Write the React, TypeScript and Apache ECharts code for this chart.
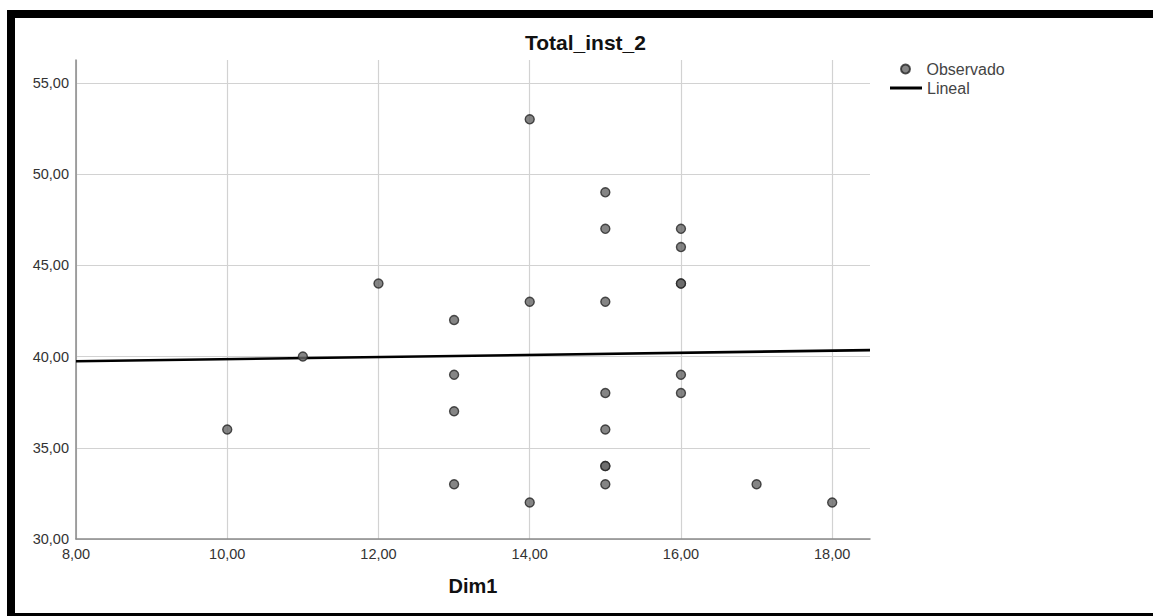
import React, { useEffect, useRef } from "react";
import * as echarts from "echarts";

const obsX = [10, 11, 12, 13, 13, 13, 13, 14, 14, 14, 15, 15, 15, 15, 15, 15, 15, 15, 16, 16, 16, 16, 16, 16, 17, 18];
const obsY = [36, 40, 44, 42, 39, 37, 33, 53, 43, 32, 49, 47, 43, 38, 36, 34, 34, 33, 47, 46, 44, 44, 39, 38, 33, 32];
const fitX = [8, 18.5];
const fitY = [39.74, 40.35];
const xRange = [8, 18.5];
const yRange = [30, 56.25];
const chartTitle = "Total_inst_2";
const xName = "Dim1";
const legendNames = ["Observado", "Lineal"];

const FONT = "'Liberation Sans', Arial, sans-serif";
const fmt = (v: number) => v.toFixed(2).replace(".", ",");

export default function App() {
  const ref = useRef<HTMLDivElement>(null);
  useEffect(() => {
    if (!ref.current) return;
    const chart = echarts.init(ref.current, undefined, { renderer: "svg" });
    chart.setOption({
      animation: false,
      backgroundColor: "#ffffff",
      title: {
        text: chartTitle,
        left: 525,
        top: 32,
        padding: 0,
        textStyle: { fontFamily: FONT, fontSize: 21, fontWeight: "bold", color: "#111" },
      },
      legend: [
        {
          data: [{ name: legendNames[0], icon: "circle" }],
          left: 900,
          top: 61,
          padding: 0,
          itemWidth: 32,
          itemHeight: 9,
          itemGap: 0,
          textStyle: { fontFamily: FONT, fontSize: 16, color: "#444" },
        },
        {
          data: [{ name: legendNames[1], icon: "rect" }],
          left: 890,
          top: 80,
          padding: 0,
          itemWidth: 32,
          itemHeight: 3,
          itemGap: 0,
          textStyle: { fontFamily: FONT, fontSize: 16, color: "#444" },
        },
      ],
      grid: { left: 76, top: 60, right: 283, bottom: 77, containLabel: false },
      xAxis: {
        type: "value",
        min: xRange[0],
        max: xRange[1],
        interval: 2,
        name: xName,
        nameLocation: "middle",
        nameGap: 37,
        nameTextStyle: { fontFamily: FONT, fontSize: 20, fontWeight: "bold", color: "#111" },
        axisLine: { show: true, lineStyle: { color: "#8a8a8a", width: 1.5 } },
        axisTick: { show: false },
        axisLabel: { margin: 7, showMaxLabel: false, formatter: fmt, fontFamily: FONT, fontSize: 14.5, color: "#333" },
        splitLine: { show: true, showMaxLine: false, lineStyle: { color: "#d2d2d2", width: 1.2 } },
      },
      yAxis: {
        type: "value",
        min: yRange[0],
        max: yRange[1],
        interval: 5,
        axisLine: { show: true, onZero: false, lineStyle: { color: "#8a8a8a", width: 1.5 } },
        axisTick: { show: false },
        axisLabel: { margin: 7, showMaxLabel: false, formatter: fmt, fontFamily: FONT, fontSize: 14.5, color: "#333", padding: [4, 0, 0, 0] },
        splitLine: { show: true, showMaxLine: false, lineStyle: { color: "#d2d2d2", width: 1.2 } },
      },
      series: [
        {
          name: legendNames[0],
          type: "scatter",
          data: obsX.map((x, i) => [x, obsY[i]]),
          symbol: "circle",
          symbolSize: 9,
          itemStyle: { color: "#666666", borderColor: "#262626", borderWidth: 1.4 },
          z: 3,
        },
        {
          name: legendNames[1],
          type: "line",
          data: fitX.map((x, i) => [x, fitY[i]]),
          showSymbol: false,
          symbol: "none",
          color: "#000",
          lineStyle: { color: "#000", width: 2.6 },
          itemStyle: { color: "#000" },
          z: 2,
        },
      ],
      graphic: [
        {
          type: "rect",
          shape: { x: 11, y: 14, width: 1300, height: 603 },
          style: { fill: "none", stroke: "#000", lineWidth: 8 },
          silent: true,
          z: 10,
        },
      ],
    });
    return () => chart.dispose();
  }, []);
  return (
    <div
      ref={ref}
      style={{ position: "fixed", left: 0, top: 0, width: 1153, height: 616, background: "#fff" }}
    />
  );
}
